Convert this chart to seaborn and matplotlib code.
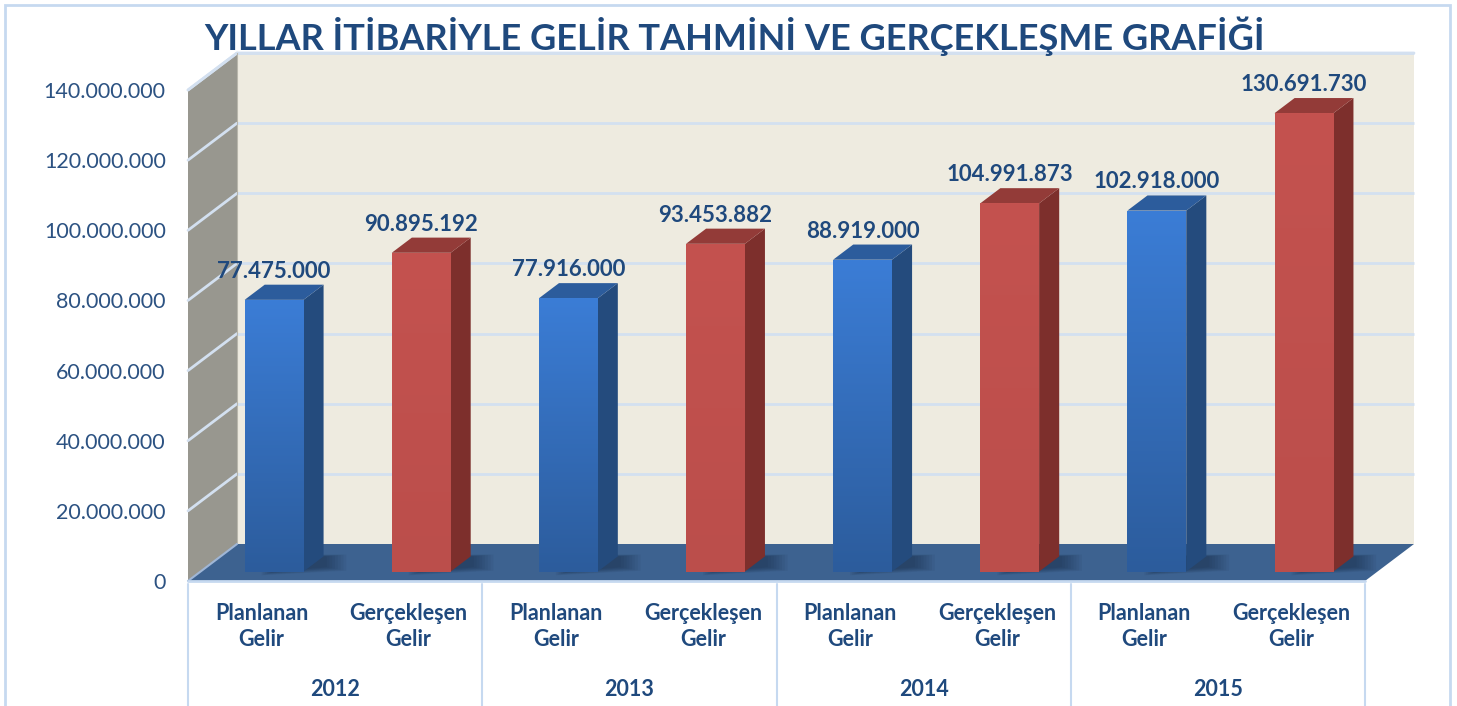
import numpy as np
import pandas as pd
import matplotlib
matplotlib.use("Agg")
import matplotlib.pyplot as plt
from matplotlib.patches import Polygon, Rectangle
from matplotlib.colors import LinearSegmentedColormap
import matplotlib.transforms as mtransforms
import seaborn as sns

# ---- data ----
years = ["2012", "2013", "2014", "2015"]
series = ["Planlanan\nGelir", "Gerçekleşen\nGelir"]
planlanan = [77475000, 77916000, 88919000, 102918000]
gerceklesen = [90895192, 93453882, 104991873, 130691730]
yticks = [0, 20000000, 40000000, 60000000, 80000000, 100000000, 120000000, 140000000]
title = "YILLAR İTİBARİYLE GELİR TAHMİNİ VE GERÇEKLEŞME GRAFİĞİ"

rows = []
for i, y in enumerate(years):
    rows.append({"cat": f"{y}-P", "year": y, "series": series[0], "value": planlanan[i]})
    rows.append({"cat": f"{y}-G", "year": y, "series": series[1], "value": gerceklesen[i]})
df = pd.DataFrame(rows)

sns.set_theme(style="white")
plt.rcParams["font.family"] = ["Lato", "DejaVu Sans"]

W, H = 1457, 706
fig = plt.figure(figsize=(W / 100, H / 100), dpi=100)
fig.patch.set_facecolor("white")

# axes = front plane of the 3D box
left_px, right_px, bot_px, top_px = 188, 1365, 581, 90
ax = fig.add_axes([left_px / W, 1 - bot_px / H, (right_px - left_px) / W, (bot_px - top_px) / H])
ax.set_facecolor("none")

ncat = len(df)
xmin, xmax = -0.5, ncat - 0.5
ymax = 140000000
pxx = (right_px - left_px) / (xmax - xmin)   # px per category unit
pxy = (bot_px - top_px) / ymax               # px per value unit

# depth of the box (px -> data)
DX = 49 / pxx
DY = 37 / pxy

blue_c, red_c = "#3a7bd0", "#c0504d"
palette = {series[0]: blue_c, series[1]: red_c}
sns.barplot(data=df, x="cat", y="value", hue="series", palette=palette,
            dodge=False, width=0.40, legend=False, ax=ax, saturation=1)
bar_patches = sorted([p for p in ax.patches if isinstance(p, Rectangle) and p.get_height() > 0],
                     key=lambda p: p.get_x())

wall_col = "#eeebe0"
side_col = "#98978f"
grid_col = "#d3e0f0"
floor_col = "#3d6290"

# back wall
ax.add_patch(Rectangle((xmin + DX, DY), xmax - xmin, ymax, facecolor=wall_col,
                       edgecolor="none", zorder=0.5, clip_on=False))
# left side wall
ax.add_patch(Polygon([(xmin, 0), (xmin + DX, DY), (xmin + DX, ymax + DY), (xmin, ymax)],
                     closed=True, facecolor=side_col, edgecolor="none", zorder=0.6, clip_on=False))
# grid lines
for v in yticks[1:]:
    ax.plot([xmin + DX, xmax + DX], [v + DY, v + DY], color=grid_col, lw=2, zorder=0.7,
            clip_on=False, solid_capstyle="butt")
    ax.plot([xmin, xmin + DX], [v, v + DY], color=grid_col, lw=2, zorder=0.7, clip_on=False)
# top edges
ax.plot([xmin, xmin + DX, xmax + DX], [ymax, ymax + DY, ymax + DY], color=grid_col, lw=2,
        zorder=0.7, clip_on=False)
ax.plot([xmin + DX, xmin + DX], [DY, ymax + DY], color="#b8b6ab", lw=0.8, zorder=0.7, clip_on=False)
# floor
floor = Polygon([(xmin, 0), (xmax, 0), (xmax + DX, DY), (xmin + DX, DY)], closed=True,
                facecolor=floor_col, edgecolor="none", zorder=0.8, clip_on=False)
ax.add_patch(floor)
ax.plot([xmin, xmin + DX], [0, DY], color="#9fb6d6", lw=1.5, zorder=0.85, clip_on=False)
ax.plot([xmin, xmax], [0, 0], color="#c6d9f0", lw=2, zorder=0.85, clip_on=False)

# bars: front offset inside depth, plus side/top faces
f0 = 0.255
fd = 0.41
blue_side, blue_top = "#244b7d", "#2c5c9c"
red_side, red_top = "#7d2f2c", "#933b38"
blue_cmap = LinearSegmentedColormap.from_list("b", ["#2c5c9c", "#3b7dd6"])
red_cmap = LinearSegmentedColormap.from_list("r", ["#bb4e4b", "#c4524f"])

for i, p in enumerate(bar_patches):
    val = df["value"].iloc[i]
    is_blue = df["series"].iloc[i] == series[0]
    x0 = p.get_x() + f0 * DX
    y0 = f0 * DY
    w = p.get_width()
    p.set_x(x0)
    p.set_y(y0)
    p.set_height(val)
    p.set_edgecolor("none")
    p.set_zorder(3)
    ddx, ddy = fd * DX, fd * DY
    sc, tc = (blue_side, blue_top) if is_blue else (red_side, red_top)
    # soft shadow on floor (layered translucent quads growing outward)
    for k in range(8):
        s = 0.012 * k
        ax.add_patch(Polygon([(x0 + w * 0.5 - s, y0 - s * DY * 1.2),
                              (x0 + w + ddx + 0.02 + s * 1.6, y0 + ddy * 0.3 - s * DY * 1.2),
                              (x0 + w + ddx + 0.02 + s * 1.6, y0 + ddy + s * DY * 0.6),
                              (x0 + w * 0.5 - s, y0 + ddy + s * DY * 0.6)],
                             closed=True, facecolor="#0c1a30", alpha=0.06, edgecolor="none",
                             zorder=0.9, clip_on=False))
    ax.add_patch(Polygon([(x0 + w, y0), (x0 + w + ddx, y0 + ddy), (x0 + w + ddx, y0 + val + ddy),
                          (x0 + w, y0 + val)], closed=True, facecolor=sc, edgecolor="none",
                         zorder=2.9, clip_on=False))
    ax.add_patch(Polygon([(x0, y0 + val), (x0 + w, y0 + val), (x0 + w + ddx, y0 + val + ddy),
                          (x0 + ddx, y0 + val + ddy)], closed=True, facecolor=tc, edgecolor="none",
                         zorder=2.9, clip_on=False))
    grad = np.linspace(0, 1, 256).reshape(-1, 1)
    im = ax.imshow(grad, extent=[x0, x0 + w, y0, y0 + val], origin="lower", aspect="auto",
                   cmap=blue_cmap if is_blue else red_cmap, zorder=3.1, clip_on=True)
    im.set_clip_path(p)
    # value label
    lab = f"{val:,}".replace(",", ".")
    ax.text(x0 + w / 2, y0 + val + ddy + 3 / pxy, lab, ha="center", va="bottom",
            fontsize=16, fontweight="bold", color="#1f497d", zorder=5, clip_on=False)

ax.set_xlim(xmin, xmax)
ax.set_ylim(0, ymax)

# y axis
ax.set_yticks(yticks)
ax.set_yticklabels([f"{v:,}".replace(",", ".") for v in yticks], fontsize=15.5, color="#2c5282")
ax.tick_params(axis="y", length=0, pad=16)
# x axis
ax.set_xticks(range(ncat))
ax.set_xticklabels(df["series"].tolist(), fontsize=15.5, fontweight="bold", color="#1f497d",
                   linespacing=1.3)
ax.tick_params(axis="x", length=0, pad=16)
ax.set_xlabel("")
ax.set_ylabel("")
for s in ax.spines.values():
    s.set_visible(False)

# group separators and year labels
trans = mtransforms.blended_transform_factory(ax.transData, ax.transAxes)
sep_top = -3 / (bot_px - top_px)
for gx in np.arange(xmin, xmax + 0.01, 2):
    ax.plot([gx, gx], [sep_top, -0.27], transform=trans, color="#c6d9f0", lw=1.5, clip_on=False)
for i, y in enumerate(years):
    ax.text(2 * i + 0.5, (H - 690 - (H - bot_px)) / (bot_px - top_px), y, transform=trans,
            ha="center", va="center", fontsize=15.5, fontweight="bold", color="#1f497d")

# title
fig.text(735 / W, 1 - 36 / H, title, ha="center", va="center", fontsize=26, fontweight="bold",
         color="#1f497d")

# outer border
fig.add_artist(Rectangle((5 / W, -0.1), (1450 - 5) / W, 1 - 5 / H + 0.1, transform=fig.transFigure,
                         facecolor="none", edgecolor="#c6d9f0", lw=2))

fig.savefig("out.png", dpi=100)
